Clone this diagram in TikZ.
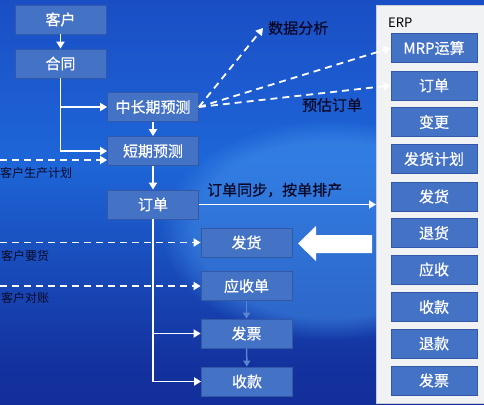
\documentclass[tikz,border=0pt]{standalone}
\usepackage{fontspec}
\setmainfont{Noto Sans CJK SC}
\newfontfamily\boxfont{Noto Sans CJK SC}[AutoFakeBold=0.6]
\usetikzlibrary{arrows.meta,fadings,calc}
\definecolor{boxfill}{HTML}{4472C4}
\definecolor{boxline}{HTML}{3458A8}
\definecolor{bgtop}{HTML}{1634B0}
\definecolor{bgmid}{HTML}{1E66D8}
\definecolor{bgbot}{HTML}{0F1C86}
\definecolor{glow}{HTML}{4A9AF0}
\definecolor{panel}{HTML}{F1F2F4}
\definecolor{panelline}{HTML}{C8CCD4}
\definecolor{labeltxt}{HTML}{0A0A28}
\definecolor{bluearrow}{HTML}{5A86D0}
\pgfdeclareverticalshading{bgshade}{100bp}{color(0bp)=(bgbot); color(30bp)=(bgbot!70!bgmid); color(55bp)=(bgmid); color(80bp)=(bgtop!60!bgmid); color(100bp)=(bgtop)}
\tikzset{
  flowbox/.style={draw=boxline, line width=0.8pt, fill=boxfill, text=white, font=\boxfont\bfseries\fontsize{15}{15}\selectfont, minimum width=91pt, minimum height=29pt, inner sep=0pt},
  erpbox/.style={flowbox, minimum width=86pt},
  conn/.style={draw=white, line width=1.8pt, -{Triangle[length=7pt,width=8pt]}},
  dconn/.style={draw=white, line width=1.8pt, dash pattern=on 7pt off 5pt, -{Triangle[length=7pt,width=8pt]}},
  bconn/.style={draw=bluearrow, line width=1.5pt, -{Triangle[length=6pt,width=7pt]}},
  lbl/.style={text=labeltxt, font=\boxfont\bfseries\fontsize{15}{15}\selectfont, inner sep=0pt},
  slbl/.style={text=labeltxt, font=\fontsize{12}{12}\selectfont, inner sep=0pt, anchor=west},
}
\begin{document}
\begin{tikzpicture}[x=1pt,y=-1pt]
\useasboundingbox (0,0) rectangle (484,404);
\shade[shading=bgshade] (0,0) rectangle (484,404);
\fill[glow, path fading=circle with fuzzy edge 20 percent, opacity=0.45] (330,230) ellipse (170 and 110);
% ERP panel
\node[draw=panelline, fill=panel, line width=0.8pt, minimum width=112pt, minimum height=398pt, inner sep=0pt, anchor=north west] (erp) at (376,5) {};
\node[anchor=west, inner sep=0pt, text=black, font=\fontsize{13}{13}\selectfont] (erpl) at (388,23) {ERP};
\node[erpbox] (mrp) at (434,48) {MRP运算};
\node[erpbox] (edd) at (434,85.5) {订单};
\node[erpbox] (ebg) at (434,122) {变更};
\node[erpbox] (efj) at (434,159) {发货计划};
\node[erpbox] (efh) at (434,196.5) {发货};
\node[erpbox] (eth) at (434,233) {退货};
\node[erpbox] (eys) at (434,269.5) {应收};
\node[erpbox] (esk) at (434,307) {收款};
\node[erpbox] (etk) at (434,343.5) {退款};
\node[erpbox] (efp) at (434,380.5) {发票};
% left flow
\node[flowbox] (kehu) at (60.5,19.5) {客户};
\node[flowbox] (hetong) at (60.5,63.5) {合同};
\node[flowbox] (zcq) at (153,107) {中长期预测};
\node[flowbox] (dqy) at (153,151) {短期预测};
\node[flowbox] (dd) at (153,204.5) {订单};
\node[flowbox] (fh) at (246.5,242.5) {发货};
\node[flowbox] (ysd) at (246.5,286) {应收单};
\node[flowbox] (fp) at (246.5,333.5) {发票};
\node[flowbox] (sk) at (247,381.5) {收款};
% labels
\node[lbl, anchor=west] (sjfx) at (268,28) {数据分析};
\node[lbl] (ygdd) at (332,105) {预估订单};
\node[lbl, anchor=west] (ddtb) at (207,190) {订单同步，按单排产};
\node[slbl] (khsc) at (0,173) {客户生产计划};
\node[slbl] (khyh) at (1,256) {客户要货};
\node[slbl] (khdz) at (1,298) {客户对账};
% solid connectors
\draw[conn] (kehu) -- (hetong);
\draw[conn] (hetong.south) |- (zcq.west);
\draw[conn] (hetong.south) |- (dqy.west);
\draw[conn] (zcq) -- (dqy);
\draw[conn] (dqy) -- (dd);
\draw[conn] (dd.south) |- (fp.west);
\draw[conn] (dd.south) |- (sk.west);
\draw[conn] (dd.east) -- (erp.west |- dd.east);
% blue connectors
\draw[bconn] (ysd) -- (fp);
\draw[bconn] (fp) -- (sk);
% dashed connectors
\coordinate (cA) at (0,160);
\coordinate (cB) at (0,242.5);
\coordinate (cC) at (0,286);
\draw[dconn] (cA) -- (cA -| dqy.west);
\draw[dconn] (cB) -- (fh.west);
\draw[dconn] (cC) -- (ysd.west);
\draw[dconn] (zcq.east) -- ($(sjfx.west)+(-5,0)$);
\draw[dconn] (zcq.east) -- (mrp.west);
\draw[dconn] (zcq.east) -- (edd.west);
% big block arrow
\fill[white] (298,243.5) -- (316,226) -- (316,235) -- (372,235) -- (372,253) -- (316,253) -- (316,261) -- cycle;
\end{tikzpicture}
\end{document}
